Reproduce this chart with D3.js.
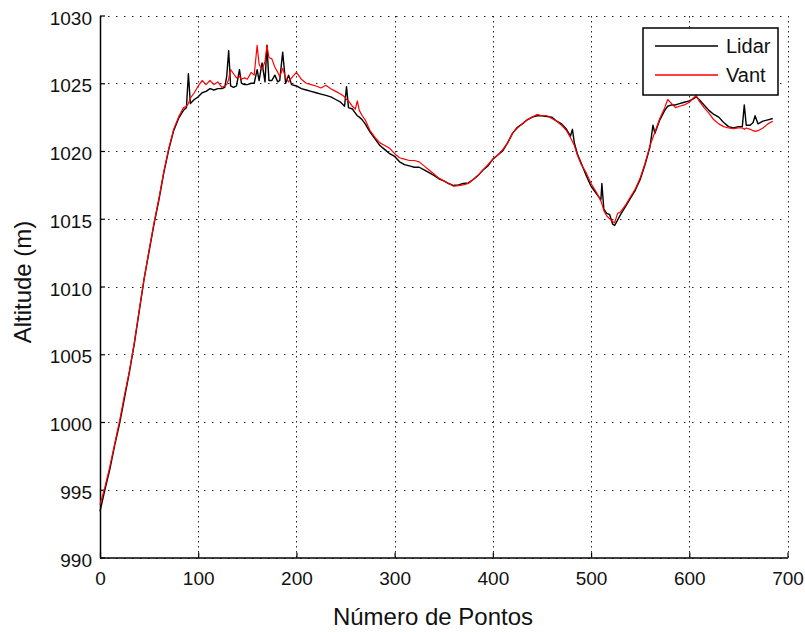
<!DOCTYPE html>
<html>
<head>
<meta charset="utf-8">
<script src="https://cdn.jsdelivr.net/npm/d3@7"></script>
<style>
  body { margin: 0; background: #fff; }
  text { font-family: "Liberation Sans", Arial, sans-serif; fill: #111; }
</style>
</head>
<body>
<div id="chart"></div>
<script>
var width = 805;
var height = 632;

// ponto index, shared by both series
var pontos = [0,5,10,15,20,25,30,35,40,45,50,55,60,65,70,75,80,85,
    88,90,92,96,100,104,108,112,116,120,124,127,129,131,133,136,139,142,144,147,150,154,157,160,162,165,168,170,172,175,178,181,183,186,189,192,195,200,205,210,215,
    220,225,230,235,240,245,249,251,253,257,260,262,264,267,270,275,280,285,290,295,300,305,310,315,320,325,330,335,340,345,350,355,360,365,370,375,380,
    385,390,395,400,405,410,415,420,425,430,435,440,445,450,455,460,465,470,475,479,481,483,486,490,495,500,505,508,510,511,513,516,519,522,524,527,530,535,540,545,550,555,560,563,565,570,575,578,582,586,590,595,600,604,607,610,615,620,625,630,635,640,645,650,654,656,658,662,665,667,670,675,680,685];

var lidar = [993.4,995.0,996.5,998.3,999.9,1001.8,1003.7,1005.8,1008.2,1010.6,1012.6,1014.6,1016.4,1018.4,1020.1,1021.5,1022.4,1023.0,
    1023.2,1025.7,1023.5,1023.8,1024.0,1024.3,1024.4,1024.6,1024.5,1024.6,1024.6,1024.7,1025.5,1027.4,1024.8,1024.7,1024.8,1026.0,1025.0,1024.9,1024.9,1025.0,1025.0,1026.0,1025.2,1026.5,1025.1,1027.8,1025.2,1025.2,1025.6,1025.1,1025.2,1027.3,1025.0,1025.6,1024.9,1024.8,1024.6,1024.5,1024.4,
    1024.3,1024.2,1024.1,1024.0,1023.8,1023.6,1023.3,1024.75,1023.2,1023.1,1022.8,1022.6,1022.5,1022.3,1022.0,1021.4,1020.9,1020.4,1020.1,1019.8,1019.6,1019.2,1019.0,1018.9,1018.8,1018.8,1018.6,1018.4,1018.2,1017.95,1017.8,1017.6,1017.45,1017.5,1017.6,1017.65,1017.9,
    1018.2,1018.6,1018.9,1019.4,1019.7,1020.0,1020.6,1021.3,1021.75,1022.0,1022.3,1022.5,1022.6,1022.6,1022.55,1022.5,1022.2,1022.0,1021.6,1021.1,1021.6,1020.6,1019.8,1019.1,1018.2,1017.4,1016.9,1016.6,1016.4,1017.6,1015.7,1015.4,1015.3,1014.6,1014.5,1014.9,1015.3,1015.9,1016.5,1017.1,1017.9,1019.0,1020.3,1021.9,1021.3,1022.3,1023.0,1023.3,1023.4,1023.4,1023.5,1023.6,1023.7,1023.85,1024.0,1023.8,1023.4,1023.0,1022.7,1022.5,1022.1,1021.8,1021.7,1021.8,1021.8,1023.4,1021.9,1021.9,1022.1,1022.6,1022.0,1022.2,1022.3,1022.4];

var vant = [993.9,995.2,996.7,998.4,1000.1,1002.0,1003.8,1005.9,1008.3,1010.6,1012.7,1014.7,1016.5,1018.5,1020.2,1021.6,1022.5,1023.2,
    1023.3,1023.5,1023.9,1024.3,1024.8,1025.2,1024.9,1025.2,1024.9,1025.1,1024.7,1024.8,1024.9,1025.3,1026.0,1025.7,1025.4,1025.5,1025.3,1025.4,1025.3,1025.8,1025.6,1027.8,1026.4,1026.0,1026.6,1027.8,1026.9,1026.8,1026.2,1025.8,1025.5,1026.1,1025.4,1025.1,1025.4,1025.8,1025.3,1025.0,1024.9,
    1024.8,1024.65,1024.85,1024.6,1024.4,1024.2,1024.0,1023.8,1023.7,1023.3,1023.1,1023.7,1023.0,1022.6,1022.3,1021.5,1021.0,1020.6,1020.4,1020.2,1019.8,1019.5,1019.4,1019.3,1019.3,1019.2,1018.9,1018.6,1018.3,1018.0,1017.8,1017.6,1017.4,1017.45,1017.5,1017.6,1017.9,
    1018.2,1018.6,1019.0,1019.4,1019.7,1020.1,1020.6,1021.3,1021.7,1022.0,1022.3,1022.5,1022.7,1022.6,1022.6,1022.4,1022.2,1021.9,1021.5,1021.0,1020.7,1020.4,1019.7,1019.0,1018.4,1017.6,1017.0,1016.6,1016.3,1016.1,1015.6,1015.2,1015.0,1014.8,1014.7,1015.4,1015.5,1016.0,1016.6,1017.2,1018.0,1019.1,1020.4,1021.0,1021.4,1022.4,1023.2,1023.8,1023.5,1023.2,1023.3,1023.4,1023.6,1023.9,1024.1,1023.7,1023.2,1022.8,1022.3,1022.0,1021.8,1021.7,1021.65,1021.7,1021.7,1021.6,1021.7,1021.6,1021.5,1021.45,1021.5,1021.7,1022.0,1022.2];

var xTicks = [0,100,200,300,400,500,600,700];
var yTicks = [990,995,1000,1005,1010,1015,1020,1025,1030];
var seriesNames = ["Lidar", "Vant"];
var seriesColors = ["#000000", "#ff0000"];

var margin = {left: 100, right: 17.5, top: 15.5, bottom: 74.5};

var svg = d3.select("#chart")
    .append("svg")
    .attr("width", width)
    .attr("height", height)
    .style("background", "#fff");

var xScale = d3.scaleLinear().domain([0, 700]).range([margin.left, width - margin.right]);
var yScale = d3.scaleLinear().domain([990, 1030]).range([height - margin.bottom, margin.top]);

// dotted grid
svg.append("g")
    .selectAll("line")
    .data(yTicks)
    .enter()
    .append("line")
    .attr("x1", xScale(0))
    .attr("x2", xScale(700))
    .attr("y1", function(d) { return Math.round(yScale(d)) + 0.5; })
    .attr("y2", function(d) { return Math.round(yScale(d)) + 0.5; })
    .attr("stroke", "#222")
    .attr("stroke-width", 1)
    .attr("stroke-dasharray", "1.5,6.5");

svg.append("g")
    .selectAll("line")
    .data(xTicks)
    .enter()
    .append("line")
    .attr("x1", function(d) { return Math.round(xScale(d)) + 0.5; })
    .attr("x2", function(d) { return Math.round(xScale(d)) + 0.5; })
    .attr("y1", yScale(990))
    .attr("y2", yScale(1030))
    .attr("stroke", "#222")
    .attr("stroke-width", 1)
    .attr("stroke-dasharray", "1.5,3.5");

// axes (ticks pointing inside)
var xAxis = d3.axisBottom(xScale).tickValues(xTicks).tickFormat(d3.format("d"))
    .tickSizeInner(-5).tickSizeOuter(0).tickPadding(14);
var yAxis = d3.axisLeft(yScale).tickValues(yTicks).tickFormat(d3.format("d"))
    .tickSizeInner(-5).tickSizeOuter(0).tickPadding(8);

var gx = svg.append("g")
    .attr("transform", "translate(0," + yScale(990) + ")")
    .call(xAxis);
var gy = svg.append("g")
    .attr("transform", "translate(" + xScale(0) + ",0)")
    .call(yAxis);

[gx, gy].forEach(function(g) {
    g.select(".domain").attr("stroke", "#000").attr("stroke-width", 1.5);
    g.selectAll(".tick line").attr("stroke", "#000").attr("stroke-width", 1.2);
    g.selectAll(".tick text")
        .style("font-family", "'Liberation Sans', Arial, sans-serif")
        .style("font-size", "19px")
        .attr("fill", "#222");
});
gy.selectAll(".tick text").attr("dy", "0.45em");

// lines
var line = d3.line()
    .x(function(d) { return xScale(d[0]); })
    .y(function(d) { return yScale(d[1]); });

var lidarData = pontos.map(function(p, i) { return [p, lidar[i]]; });
var vantData = pontos.map(function(p, i) { return [p, vant[i]]; });

svg.append("path")
    .datum(lidarData)
    .attr("d", line)
    .attr("fill", "none")
    .attr("stroke", seriesColors[0])
    .attr("stroke-width", 1.4)
    .attr("stroke-linejoin", "round");

svg.append("path")
    .datum(vantData)
    .attr("d", line)
    .attr("fill", "none")
    .attr("stroke", seriesColors[1])
    .attr("stroke-width", 1.2)
    .attr("stroke-linejoin", "round");

// axis titles
svg.append("text")
    .attr("x", 433)
    .attr("y", 625)
    .attr("text-anchor", "middle")
    .style("font-size", "24px")
    .text("Número de Pontos");

svg.append("text")
    .attr("transform", "translate(31,282) rotate(-90)")
    .attr("text-anchor", "middle")
    .style("font-size", "24px")
    .text("Altitude (m)");

// legend
var legend = svg.append("g");
legend.append("rect")
    .attr("x", 643)
    .attr("y", 28)
    .attr("width", 135)
    .attr("height", 67)
    .attr("fill", "#fff")
    .attr("stroke", "#000")
    .attr("stroke-width", 1.5);

seriesNames.forEach(function(name, i) {
    var yy = 46 + i * 29;
    legend.append("line")
        .attr("x1", 655)
        .attr("x2", 718)
        .attr("y1", yy)
        .attr("y2", yy)
        .attr("stroke", seriesColors[i])
        .attr("stroke-width", 1.4);
    legend.append("text")
        .attr("x", 726)
        .attr("y", yy + 7)
        .style("font-size", "20px")
        .text(name);
});
</script>
</body>
</html>
